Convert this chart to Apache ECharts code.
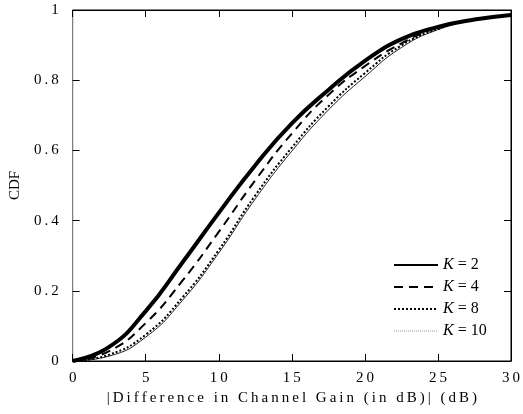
<!DOCTYPE html>
<html>
<head>
<meta charset="utf-8">
<script src="https://cdn.jsdelivr.net/npm/echarts@6/dist/echarts.min.js"></script>
<style>
  html, body { margin: 0; padding: 0; background: #fff; }
  #cdf-chart { width: 523px; height: 414px; }
</style>
</head>
<body>
<div id="cdf-chart"></div>
<script>
// gain difference (dB) sample points
const gainDb = [0, 2.5, 5, 7.5, 10, 12.5, 15, 17.5, 20, 22.5, 25, 27.5, 30];
const cdfK2  = [0, 0.040, 0.142, 0.280, 0.422, 0.558, 0.677, 0.772, 0.855, 0.917, 0.952, 0.973, 0.986];
const cdfK4  = [0, 0.028, 0.108, 0.228, 0.368, 0.515, 0.648, 0.758, 0.840, 0.905, 0.950, 0.972, 0.986];
const cdfK8  = [0, 0.018, 0.075, 0.180, 0.316, 0.472, 0.608, 0.725, 0.820, 0.899, 0.946, 0.972, 0.985];
const cdfK10 = [0, 0.014, 0.068, 0.172, 0.308, 0.462, 0.598, 0.715, 0.810, 0.893, 0.944, 0.971, 0.985];
const kLabels = ['2', '4', '8', '10'];

const serif = 'Liberation Serif';
// the original has wide letter spacing
const spaced = s => String(s).split('').join('\u2009');
const pairs = ys => gainDb.map((x, i) => [x, ys[i]]);

const sideAxis = {
  show: true,
  axisLine: { show: true, onZero: false, lineStyle: { color: '#000', width: 1 } },
  axisTick: { show: true, inside: true, length: 7, lineStyle: { color: '#000' } },
  axisLabel: { show: false },
  splitLine: { show: false }
};

let option = {
  animation: false,
  backgroundColor: '#fff',
  color: ['#000', '#000', '#000', '#000'],
  grid: { left: 71, right: 11, top: 10, bottom: 53, show: true, borderColor: '#000', borderWidth: 1 },
  legend: {
    orient: 'vertical',
    left: 388,
    top: 252,
    itemWidth: 44,
    itemHeight: 14,
    itemGap: 6,
    itemStyle: { opacity: 0 },
    textStyle: {
      fontFamily: serif, fontSize: 16, color: '#000',
      rich: { i: { fontFamily: serif, fontSize: 16, fontStyle: 'italic', color: '#000' } }
    },
    formatter: name => '{i|K} = ' + name.replace('K', ''),
    data: [
      { name: 'K' + kLabels[0] },
      { name: 'K' + kLabels[1] },
      { name: 'K' + kLabels[2] },
      { name: 'K' + kLabels[3], lineStyle: { type: 'dotted', color: '#999', width: 1 } }
    ]
  },
  xAxis: [
    {
      type: 'value', min: 0, max: 30, interval: 5,
      name: spaced('|Difference in Channel Gain (in dB)| (dB)'),
      nameLocation: 'middle', nameGap: 30,
      nameTextStyle: { fontFamily: serif, fontSize: 15, color: '#000' },
      axisLine: { onZero: false, lineStyle: { color: '#000' } },
      axisTick: { inside: true, length: 7, lineStyle: { color: '#000' } },
      axisLabel: { fontFamily: serif, fontSize: 15, color: '#000', margin: 10, formatter: v => spaced(v) },
      splitLine: { show: false }
    },
    Object.assign({ type: 'value', min: 0, max: 30, interval: 5, position: 'top' }, sideAxis)
  ],
  yAxis: [
    {
      type: 'value', min: 0, max: 1, interval: 0.2,
      name: 'CDF',
      nameLocation: 'middle', nameGap: 40,
      nameTextStyle: { fontFamily: serif, fontSize: 15, color: '#000' },
      axisLine: { show: true, onZero: false, lineStyle: { color: '#808080' } },
      axisTick: { show: true, inside: true, length: 7, lineStyle: { color: '#000' } },
      axisLabel: { fontFamily: serif, fontSize: 15, color: '#000', margin: 14, formatter: v => spaced(v) },
      splitLine: { show: false }
    },
    Object.assign({ type: 'value', min: 0, max: 1, interval: 0.2, position: 'right' }, sideAxis)
  ],
  series: [
    { name: 'K' + kLabels[0], type: 'line', smooth: true, symbol: 'none', z: 4,
      lineStyle: { color: '#000', width: 4 }, data: pairs(cdfK2) },
    { name: 'K' + kLabels[1], type: 'line', smooth: true, symbol: 'none', z: 3,
      lineStyle: { color: '#000', width: 2, type: [9, 6] }, data: pairs(cdfK4) },
    { name: 'K' + kLabels[2], type: 'line', smooth: true, symbol: 'none', z: 2,
      lineStyle: { color: '#000', width: 2, type: [2, 2] }, data: pairs(cdfK8) },
    { name: 'K' + kLabels[3], type: 'line', smooth: true, symbol: 'none', z: 1,
      lineStyle: { color: '#222', width: 1 }, data: pairs(cdfK10) },
    // empty series so the top and right axes get drawn with their ticks
    { name: 'frame', type: 'line', xAxisIndex: 1, yAxisIndex: 1, symbol: 'none', data: [] }
  ]
};

let chart = echarts.init(document.getElementById('cdf-chart'), null, { renderer: 'canvas' });
chart.setOption(option);
window.addEventListener('resize', () => { chart.resize(); });
</script>
</body>
</html>
